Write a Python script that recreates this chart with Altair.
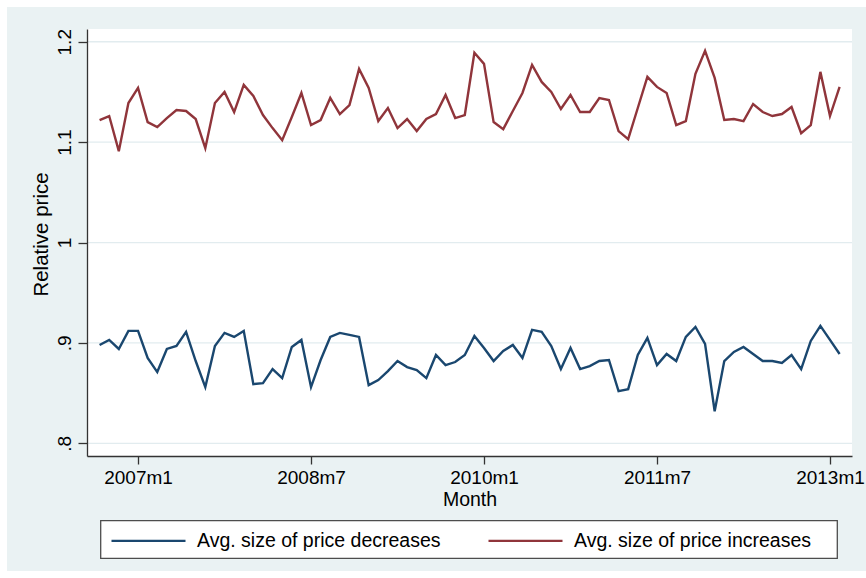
import altair as alt
import pandas as pd

# Monthly index in Stata %tm units (months since 1960m1); series runs 2006m9 .. 2013m2
first_month = 560
decreases = [
    0.898, 0.903, 0.894, 0.912, 0.912, 0.885, 0.871, 0.894, 0.897, 0.911,
    0.882, 0.856, 0.897, 0.910, 0.906, 0.912, 0.859, 0.860, 0.874, 0.865,
    0.896, 0.903, 0.856, 0.883, 0.906, 0.910, 0.908, 0.906, 0.858, 0.863,
    0.872, 0.882, 0.876, 0.873, 0.865, 0.888, 0.878, 0.881, 0.888, 0.907,
    0.895, 0.882, 0.892, 0.898, 0.885, 0.913, 0.911, 0.897, 0.874, 0.895,
    0.874, 0.877, 0.882, 0.883, 0.852, 0.854, 0.888, 0.905, 0.878, 0.889,
    0.882, 0.906, 0.916, 0.899, 0.832, 0.882, 0.891, 0.896, 0.889, 0.882,
    0.882, 0.880, 0.888, 0.874, 0.902, 0.917, 0.903, 0.889,
]
increases = [
    1.122, 1.126, 1.091, 1.139, 1.154, 1.120, 1.115, 1.124, 1.132, 1.131,
    1.123, 1.094, 1.139, 1.150, 1.130, 1.157, 1.146, 1.127, 1.114, 1.102,
    1.125, 1.149, 1.117, 1.122, 1.144, 1.128, 1.137, 1.173, 1.154, 1.121,
    1.134, 1.114, 1.123, 1.111, 1.123, 1.128, 1.147, 1.124, 1.127, 1.189,
    1.178, 1.120, 1.113, 1.131, 1.149, 1.177, 1.160, 1.150, 1.133, 1.147,
    1.130, 1.130, 1.144, 1.142, 1.111, 1.103, 1.134, 1.165, 1.155, 1.149,
    1.117, 1.121, 1.168, 1.191, 1.164, 1.122, 1.123, 1.121, 1.138, 1.130,
    1.126, 1.128, 1.135, 1.109, 1.117, 1.170, 1.126, 1.155,
]
months = list(range(first_month, first_month + len(decreases)))

series_names = ["Avg. size of price decreases", "Avg. size of price increases"]
series_colors = ["#1a476f", "#90353b"]

xtick_values = [564, 582, 600, 618, 636]
xtick_labels = ["2007m1", "2008m7", "2010m1", "2011m7", "2013m1"]
ytick_values = [0.8, 0.9, 1.0, 1.1, 1.2]
ytick_labels = [".8", ".9", "1", "1.1", "1.2"]

FONT = "Liberation Sans"
W, H = 765, 427


def label_expr(values, labels):
    expr = "''"
    for v, lab in zip(values, labels):
        expr = f"abs(datum.value - {v}) < 1e-6 ? '{lab}' : ({expr})"
    return expr


df = pd.DataFrame({
    "month": months * 2,
    "value": decreases + increases,
    "series": [series_names[0]] * len(months) + [series_names[1]] * len(months),
})

xscale = alt.Scale(domain=[558.69, 638.29], nice=False, zero=False)
yscale = alt.Scale(domain=[0.7874, 1.2127], nice=False, zero=False)

x_axis = alt.Axis(
    values=xtick_values,
    labelExpr=label_expr(xtick_values, xtick_labels),
    title="Month",
    grid=False,
    zindex=1,
    domainColor="#333333",
    domainWidth=1.3,
    tickColor="#333333",
    tickWidth=1.3,
    tickSize=8,
    labelFont=FONT,
    labelFontSize=19,
    labelColor="black",
    labelBaseline="alphabetic",
    labelPadding=19,
    labelFlush=False,
    labelOverlap=False,
    titleFont=FONT,
    titleFontSize=19.5,
    titleFontWeight="normal",
    titleColor="black",
    titleBaseline="alphabetic",
    titleY=49.7,
)

y_axis = alt.Axis(
    values=ytick_values,
    labelExpr=label_expr(ytick_values, ytick_labels),
    title="Relative price",
    grid=False,
    zindex=1,
    domainColor="#333333",
    domainWidth=1.3,
    tickColor="#333333",
    tickWidth=1.3,
    tickSize=9,
    labelFont=FONT,
    labelFontSize=19,
    labelColor="black",
    labelAngle=270,
    labelAlign="center",
    labelBaseline="alphabetic",
    labelPadding=8,
    labelFlush=False,
    labelOverlap=False,
    titleFont=FONT,
    titleFontSize=20.5,
    titleFontWeight="normal",
    titleColor="black",
    titleAngle=270,
    titleAlign="center",
    titleBaseline="alphabetic",
    titleX=-40,
    titleY=205,
)

one = pd.DataFrame({"k": [0]})

# Light graph region behind everything
graph_bg = alt.Chart(one).mark_rect(fill="#eaf2f3").encode(
    x=alt.value(-80), x2=alt.value(W + 14), y=alt.value(-22), y2=alt.value(H + 115)
)
# White plot region
plot_bg = alt.Chart(one).mark_rect(fill="white").encode(
    x=alt.value(0), x2=alt.value(W), y=alt.value(0), y2=alt.value(H)
)
# Horizontal grid lines at the labelled ticks
grid = alt.Chart(pd.DataFrame({"value": ytick_values})).mark_rule(
    color="#e2ecef", strokeWidth=1.3
).encode(y=alt.Y("value:Q", scale=yscale, axis=y_axis))

# Frame around the legend
legend_frame = alt.Chart(one).mark_rect(
    fill="white", stroke="#4d4d4d", strokeWidth=1.3
).encode(
    x=alt.value(13.7), x2=alt.value(750.3), y=alt.value(491.7), y2=alt.value(529.3)
)

lines = alt.Chart(df).mark_line(strokeWidth=2.4).encode(
    x=alt.X("month:Q", scale=xscale, axis=x_axis),
    y=alt.Y("value:Q", scale=yscale, axis=y_axis),
    color=alt.Color(
        "series:N",
        scale=alt.Scale(domain=series_names, range=series_colors),
        legend=alt.Legend(
            orient="none",
            legendX=23,
            legendY=473.3,
            direction="horizontal",
            title=None,
            symbolType="stroke",
            symbolSize=5476,
            symbolStrokeWidth=2.2,
            labelFont=FONT,
            labelFontSize=19.5,
            labelColor="black",
            labelOffset=10,
            columnPadding=43,
            padding=0,
            labelLimit=400,
        ),
    ),
)

chart = alt.layer(graph_bg, plot_bg, grid, legend_frame, lines).properties(
    width=W,
    height=H,
    padding={"left": 87, "top": 29, "right": 14, "bottom": 122},
    autosize=alt.AutoSizeParams(type="none"),
    background="white",
).configure_view(strokeWidth=0)

chart.save("out.html", embed_options={"renderer": "svg", "actions": False})
